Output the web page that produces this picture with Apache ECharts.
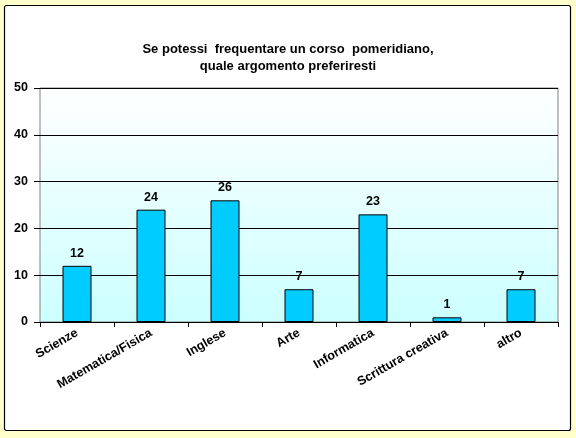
<!DOCTYPE html>
<html>
<head>
<meta charset="utf-8">
<title></title>
</head>
<body style="margin: 0; background: #ffffcc">
<div id="container" style="width: 576px; height: 438px"></div>
<script src="https://cdn.jsdelivr.net/npm/echarts@6/dist/echarts.min.js"></script>
<script>
var categories = ['Scienze', 'Matematica/Fisica', 'Inglese', 'Arte', 'Informatica', 'Scrittura creativa', 'altro'];
var values = [12, 24, 26, 7, 23, 1, 7];
var yTicks = [0, 10, 20, 30, 40, 50];

var chart = echarts.init(document.getElementById('container'));
var font = 'Liberation Sans, Arial, sans-serif';

var option = {
  backgroundColor: '#ffffcc',
  animation: false,
  graphic: [{
    type: 'rect',
    z: -10,
    shape: { x: 4.5, y: 5.5, width: 566, height: 425, r: 2 },
    style: { fill: '#ffffff', stroke: '#000000', lineWidth: 1.2 }
  }],
  title: {
    text: 'Se potessi  frequentare un corso  pomeridiano,\nquale argomento preferiresti',
    left: 'center',
    top: 36,
    textStyle: { fontFamily: font, fontSize: 13, fontWeight: 'bold', color: '#000', lineHeight: 17 }
  },
  grid: {
    left: 40, right: 18, top: 88, bottom: 116,
    show: true,
    backgroundColor: new echarts.graphic.LinearGradient(0, 0, 0, 1, [
      { offset: 0, color: '#ffffff' },
      { offset: 1, color: '#ccffff' }
    ]),
    borderColor: '#808080',
    borderWidth: 1
  },
  xAxis: {
    type: 'category',
    data: categories,
    axisLine: { lineStyle: { color: '#000' } },
    axisTick: { show: true, alignWithLabel: false, length: 5, lineStyle: { color: '#000' } },
    axisLabel: {
      rotate: 30, interval: 0, margin: 10,
      fontFamily: font, fontSize: 12.5, fontWeight: 'bold', color: '#000'
    }
  },
  yAxis: {
    type: 'value',
    min: yTicks[0],
    max: yTicks[yTicks.length - 1],
    interval: 10,
    axisLine: { show: false },
    axisTick: { show: true, length: 6, lineStyle: { color: '#000' } },
    splitLine: { lineStyle: { color: '#000', width: 1 } },
    axisLabel: { margin: 12, fontFamily: font, fontSize: 12.5, fontWeight: 'bold', color: '#000' }
  },
  series: [{
    type: 'bar',
    data: values,
    barWidth: 29,
    itemStyle: { color: '#00ccff', borderColor: '#000', borderWidth: 1 },
    label: {
      show: true, position: 'top', distance: 6,
      fontFamily: font, fontSize: 12.5, fontWeight: 'bold', color: '#000'
    }
  }]
};
chart.setOption(option);
</script>
</body>
</html>
